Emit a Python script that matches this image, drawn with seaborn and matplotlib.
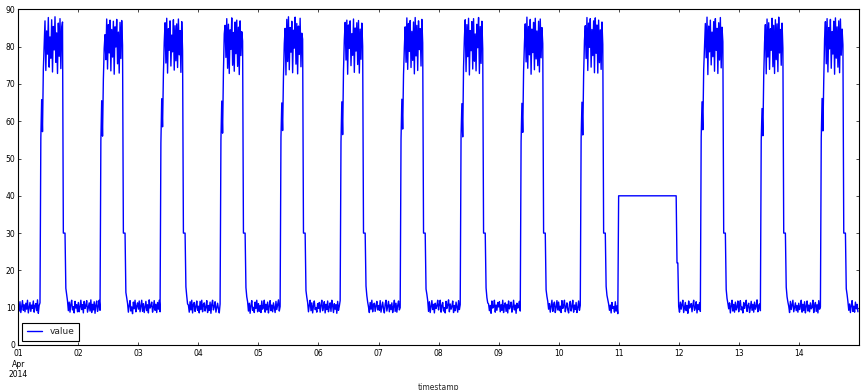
import numpy as np
import pandas as pd
import matplotlib
matplotlib.use("Agg")
import matplotlib.pyplot as plt
import matplotlib.dates as mdates
from matplotlib.ticker import FuncFormatter
import seaborn as sns

# Values read from the chart, sampled every 20 minutes, one list per day (1..14 Apr 2014)
# layout per day: 00:00-08:40 (27) | 09:00-09:40 (3) | 10:00-17:40 (24) | 18:00-19:40 (6) | 20:00-23:40 (12)
day01 = [10.9, 9.1, 11.6, 8.7, 10.4, 11.9, 9.3, 10.8, 8.9,
         11.2, 9.6, 12.0, 8.6, 10.1, 11.4, 9.0, 10.7, 9.8,
         11.8, 8.8, 10.5, 11.1, 9.2, 12.1, 8.5, 10.6, 11.3,
         55.5, 65.8, 57.2,
         73.8, 80.3, 86.9, 73.6, 84.2, 78.0, 87.8, 74.5,
         82.6, 76.9, 87.2, 73.2, 85.4, 79.1, 88.0, 75.8,
         83.7, 72.8, 86.3, 77.4, 87.5, 74.1, 84.9, 86.6,
         30.0, 30.0, 30.0, 15.2, 13.4, 11.8,
         9.2, 11.5, 8.8, 10.9, 12.0, 9.4, 10.3, 8.6, 11.7, 9.9, 10.8, 8.9]
day02 = [11.4, 8.9, 10.2, 12.0, 9.5, 10.8, 8.6, 11.7, 9.8,
         10.5, 11.9, 8.8, 10.0, 11.3, 9.1, 12.1, 8.7, 10.9,
         9.4, 11.6, 8.5, 10.7, 11.8, 9.0, 10.3, 12.0, 9.3,
         54.8, 65.5, 56.0,
         71.2, 79.6, 83.2, 76.5, 87.4, 74.0, 85.9, 78.3,
         87.1, 73.5, 84.6, 77.2, 86.8, 72.6, 85.3, 79.9,
         87.3, 75.4, 83.9, 72.9, 86.5, 76.8, 87.0, 80.4,
         30.0, 30.0, 30.0, 14.1, 12.6, 11.2,
         8.8, 10.6, 11.9, 9.1, 10.2, 8.4, 11.5, 9.7, 12.0, 8.9, 10.4, 11.3]
day03 = [9.6, 11.8, 8.9, 10.5, 12.0, 9.0, 11.1, 8.7, 10.3,
         11.7, 9.2, 10.8, 8.6, 12.1, 9.9, 10.4, 11.5, 8.8,
         10.1, 11.9, 9.3, 10.9, 8.7, 11.4, 9.6, 12.0, 8.9,
         54.2, 66.0, 58.5,
         72.4, 81.2, 86.4, 75.6, 87.6, 72.9, 84.8, 79.0,
         86.9, 74.8, 83.1, 78.6, 87.2, 73.7, 85.6, 76.2,
         86.1, 74.4, 87.4, 77.8, 84.3, 73.1, 86.7, 78.9,
         30.0, 30.0, 30.0, 15.6, 13.1, 11.0,
         10.7, 8.8, 11.6, 9.4, 12.0, 8.6, 10.9, 11.4, 9.0, 10.2, 11.8, 9.3]
day04 = [10.4, 8.6, 11.7, 9.5, 12.0, 8.9, 10.8, 11.3, 9.1,
         10.1, 11.9, 8.7, 10.6, 9.3, 11.5, 8.5, 10.9, 12.0,
         9.4, 10.3, 11.6, 8.8, 10.0, 11.2, 9.7, 8.6, 11.0,
         55.0, 65.4, 56.8,
         73.1, 83.4, 85.7, 77.1, 87.5, 74.2, 86.0, 72.8,
         84.5, 79.3, 87.7, 75.0, 83.8, 73.4, 86.6, 78.1,
         87.1, 74.7, 85.2, 72.5, 86.9, 77.6, 84.0, 81.5,
         30.0, 30.0, 30.0, 15.4, 12.9, 11.6,
         9.1, 11.2, 8.5, 10.6, 11.9, 9.3, 10.1, 8.7, 11.5, 9.8, 12.0, 8.9]
day05 = [11.1, 9.0, 10.6, 8.7, 11.8, 9.6, 10.2, 12.0, 8.8,
         10.9, 9.4, 11.5, 8.6, 10.4, 11.9, 9.2, 10.7, 8.9,
         11.3, 10.0, 8.7, 11.7, 9.5, 10.8, 12.1, 9.1, 10.3,
         55.7, 64.9, 57.5,
         71.9, 80.8, 84.9, 72.4, 87.3, 76.0, 88.0, 73.8,
         85.1, 78.5, 86.8, 73.0, 84.4, 79.6, 87.9, 75.3,
         86.2, 72.7, 85.5, 77.9, 87.6, 74.6, 83.6, 82.0,
         30.0, 30.0, 30.0, 14.6, 12.8, 11.4,
         8.9, 10.7, 12.0, 9.2, 11.3, 8.6, 10.5, 11.8, 9.5, 10.0, 8.8, 11.1]
day06 = [9.8, 11.4, 8.8, 10.7, 12.0, 9.2, 10.3, 11.6, 8.6,
         10.9, 9.5, 11.8, 8.9, 10.2, 11.3, 9.0, 12.0, 10.5,
         8.7, 11.1, 9.6, 10.8, 8.5, 11.7, 9.3, 10.4, 11.9,
         54.5, 65.2, 56.4,
         73.5, 81.9, 86.5, 76.4, 87.1, 72.6, 85.8, 79.5,
         86.9, 74.9, 83.5, 77.7, 87.4, 73.1, 85.0, 78.8,
         86.4, 75.2, 87.0, 72.9, 84.7, 76.6, 86.3, 80.1,
         30.0, 30.0, 30.0, 15.8, 13.2, 11.5,
         10.2, 8.7, 11.4, 9.6, 12.0, 8.9, 10.8, 11.2, 9.0, 10.5, 11.7, 9.4]
day07 = [10.6, 9.3, 11.9, 8.8, 10.1, 11.5, 9.7, 8.6, 11.0,
         12.0, 9.1, 10.4, 11.7, 8.9, 10.8, 9.5, 11.3, 8.7,
         10.2, 12.0, 9.0, 11.2, 8.8, 10.6, 11.8, 9.4, 10.0,
         55.2, 65.9, 57.9,
         72.5, 79.8, 85.3, 75.8, 87.7, 73.9, 86.2, 78.7,
         87.0, 74.4, 84.1, 76.3, 86.6, 72.7, 87.8, 77.5,
         85.7, 73.6, 86.9, 79.2, 84.8, 74.8, 87.3, 81.0,
         30.0, 30.0, 30.0, 15.0, 13.6, 11.9,
         9.0, 11.6, 8.7, 10.3, 11.9, 9.5, 10.9, 8.6, 11.2, 9.8, 10.5, 12.0]
day08 = [9.4, 10.9, 12.0, 8.8, 10.5, 11.4, 9.1, 10.0, 8.6,
         11.7, 9.8, 10.7, 12.1, 8.9, 11.0, 9.6, 10.3, 11.8,
         8.7, 10.6, 9.2, 11.5, 10.1, 8.8, 11.9, 9.5, 10.8,
         56.2, 64.7, 55.8,
         74.6, 82.3, 87.2, 73.3, 85.9, 77.3, 87.6, 72.4,
         84.3, 78.9, 86.7, 74.0, 87.5, 76.1, 83.4, 73.5,
         86.0, 79.7, 87.8, 72.8, 85.4, 75.5, 86.8, 79.4,
         30.0, 30.0, 30.0, 15.3, 12.7, 11.3,
         11.0, 9.2, 10.6, 8.5, 11.8, 9.9, 10.2, 12.0, 8.8, 10.7, 9.3, 11.4]
day09 = [10.2, 11.6, 8.9, 10.8, 9.3, 12.0, 8.7, 10.5, 11.3,
         9.0, 10.9, 8.6, 11.8, 9.7, 10.3, 11.5, 8.8, 10.1,
         12.0, 9.4, 10.7, 8.5, 11.2, 9.9, 10.4, 11.7, 9.1,
         54.6, 64.8, 57.0,
         73.4, 80.7, 86.1, 75.9, 87.9, 74.2, 85.4, 77.8,
         87.3, 72.6, 84.7, 78.4, 86.5, 73.8, 87.6, 76.7,
         84.2, 74.9, 86.8, 73.2, 87.4, 77.0, 85.1, 80.8,
         30.0, 30.0, 30.0, 14.8, 13.0, 11.7,
         9.6, 11.1, 8.8, 10.4, 12.0, 9.0, 10.8, 11.5, 8.7, 10.1, 11.9, 9.4]
day10 = [11.5, 9.2, 10.4, 8.7, 11.9, 9.8, 10.6, 12.0, 8.9,
         10.2, 11.3, 9.4, 8.6, 10.9, 11.7, 9.1, 10.3, 12.0,
         8.8, 10.7, 9.5, 11.4, 8.7, 10.0, 11.8, 9.3, 10.6,
         55.4, 65.1, 56.3,
         72.2, 81.6, 85.6, 76.8, 87.8, 73.6, 86.3, 79.8,
         87.5, 74.5, 84.6, 77.6, 86.9, 73.0, 87.7, 78.2,
         85.8, 72.9, 87.1, 75.7, 84.5, 73.9, 86.6, 80.6,
         30.0, 30.0, 30.0, 15.7, 13.3, 12.1,
         11.0, 9.3, 10.7, 8.6, 11.4, 9.8, 10.3, 8.8, 11.6, 9.1, 10.5, 8.4]
day11 = [40.0, 40.0, 40.0, 40.0, 40.0, 40.0, 40.0, 40.0, 40.0,
         40.0, 40.0, 40.0, 40.0, 40.0, 40.0, 40.0, 40.0, 40.0,
         40.0, 40.0, 40.0, 40.0, 40.0, 40.0, 40.0, 40.0, 40.0,
         40.0, 40.0, 40.0,
         40.0, 40.0, 40.0, 40.0, 40.0, 40.0, 40.0, 40.0,
         40.0, 40.0, 40.0, 40.0, 40.0, 40.0, 40.0, 40.0,
         40.0, 40.0, 40.0, 40.0, 40.0, 40.0, 40.0, 40.0,
         40.0, 40.0, 40.0, 40.0, 40.0, 40.0,
         40.0, 40.0, 40.0, 40.0, 40.0, 40.0, 40.0, 40.0, 40.0, 40.0, 22.0, 22.0]
day12 = [10.3, 8.8, 11.5, 9.6, 10.9, 12.0, 8.7, 10.1, 11.4,
         9.2, 10.6, 8.5, 11.8, 9.9, 10.4, 11.1, 8.9, 10.7,
         12.0, 9.3, 10.0, 11.6, 8.6, 10.8, 9.5, 11.3, 9.0,
         55.9, 65.2, 57.7,
         73.7, 80.1, 86.2, 77.0, 87.9, 72.5, 85.5, 78.6,
         87.1, 75.1, 83.9, 77.3, 86.7, 73.4, 87.5, 79.0,
         84.9, 72.8, 86.4, 76.4, 87.8, 74.3, 85.2, 81.3,
         30.0, 30.0, 30.0, 14.9, 12.5, 11.2,
         9.7, 11.3, 8.6, 10.5, 12.0, 9.1, 10.9, 8.8, 11.5, 9.4, 10.2, 11.8]
day13 = [8.9, 10.7, 11.9, 9.4, 10.2, 8.6, 11.4, 9.8, 10.8,
         12.0, 9.0, 10.5, 11.2, 8.7, 10.0, 11.7, 9.3, 10.9,
         8.8, 11.5, 9.6, 10.3, 12.1, 8.9, 10.6, 11.0, 9.2,
         54.9, 63.4, 56.1,
         72.0, 81.0, 85.9, 72.7, 87.4, 77.2, 86.4, 73.9,
         84.8, 79.0, 87.6, 74.6, 85.7, 72.8, 87.2, 76.5,
         86.1, 73.3, 87.9, 78.3, 84.6, 75.0, 86.3, 79.6,
         30.0, 30.0, 30.0, 15.5, 12.9, 11.5,
         10.4, 8.7, 11.7, 9.5, 10.8, 12.0, 8.9, 10.1, 11.3, 9.2, 10.6, 8.8]
day14 = [11.2, 9.5, 10.3, 12.0, 8.8, 10.9, 9.2, 11.6, 8.6,
         10.4, 11.8, 9.1, 10.7, 8.9, 11.3, 9.7, 10.1, 12.0,
         8.7, 10.5, 11.4, 9.0, 10.8, 8.6, 11.9, 9.6, 10.2,
         55.3, 66.1, 57.4,
         70.8, 82.1, 86.7, 75.4, 87.5, 73.2, 85.1, 79.4,
         87.3, 74.2, 84.0, 78.0, 86.8, 72.6, 87.7, 76.9,
         85.3, 74.5, 86.9, 73.0, 87.4, 77.7, 84.7, 80.5,
         30.0, 30.0, 30.0, 15.1, 13.5, 11.6,
         9.3, 11.0, 8.7, 10.6, 11.9, 9.0, 10.4, 8.8, 11.5, 9.7, 10.9, 8.9]

days = ["2014-04-01", "2014-04-02", "2014-04-03", "2014-04-04", "2014-04-05",
        "2014-04-06", "2014-04-07", "2014-04-08", "2014-04-09", "2014-04-10",
        "2014-04-11", "2014-04-12", "2014-04-13", "2014-04-14"]
day_values = [day01, day02, day03, day04, day05, day06, day07,
              day08, day09, day10, day11, day12, day13, day14]

frames = []
for d, vals in zip(days, day_values):
    ts = pd.Timestamp(d) + pd.to_timedelta(np.arange(len(vals)) * 20, unit="min")
    frames.append(pd.DataFrame({"timestamp": ts, "value": vals}))
df = pd.concat(frames, ignore_index=True)

sns.set_theme(style="white", rc={
    "axes.edgecolor": "black",
    "axes.linewidth": 0.8,
    "xtick.direction": "in",
    "ytick.direction": "in",
    "xtick.top": True,
    "ytick.right": True,
    "xtick.bottom": True,
    "ytick.left": True,
})
plt.rcParams["font.family"] = ["DejaVu Sans"]

fig = plt.figure(figsize=(8.64, 3.9), dpi=100)
ax = fig.add_axes([0.0212, 0.1154, 0.9725, 0.8607])

sns.lineplot(data=df, x="timestamp", y="value", color="#0000ff", linewidth=1.0,
             estimator=None, sort=False, label="value", ax=ax)

ax.set_xlim(pd.Timestamp("2014-04-01 00:00"), pd.Timestamp("2014-04-14 23:55"))
ax.set_ylim(0, 90)
ax.set_yticks(range(0, 91, 10))
ax.xaxis.set_major_locator(mdates.DayLocator())

def fmt(x, pos):
    d = mdates.num2date(x)
    if d.day == 1:
        return "01\nApr\n2014"
    return d.strftime("%d")

ax.xaxis.set_major_formatter(FuncFormatter(fmt))
ax.tick_params(axis="both", which="major", labelsize=5.5, length=2.5, width=0.5,
               pad=2, colors="black")
ax.tick_params(axis="x", which="major", pad=3.2)
ax.set_xlabel("timestamp", fontsize=5.5, labelpad=2.5)
ax.set_ylabel("")
for s in ax.spines.values():
    s.set_color("black")
    s.set_linewidth(0.8)

leg = ax.legend(loc="lower left", fontsize=6.5, frameon=True, fancybox=False,
                handlelength=1.7, borderaxespad=0.45, borderpad=0.5)
leg.get_frame().set_edgecolor("black")
leg.get_frame().set_linewidth(0.8)
leg.get_frame().set_alpha(1)

fig.savefig("out.png", dpi=100)
